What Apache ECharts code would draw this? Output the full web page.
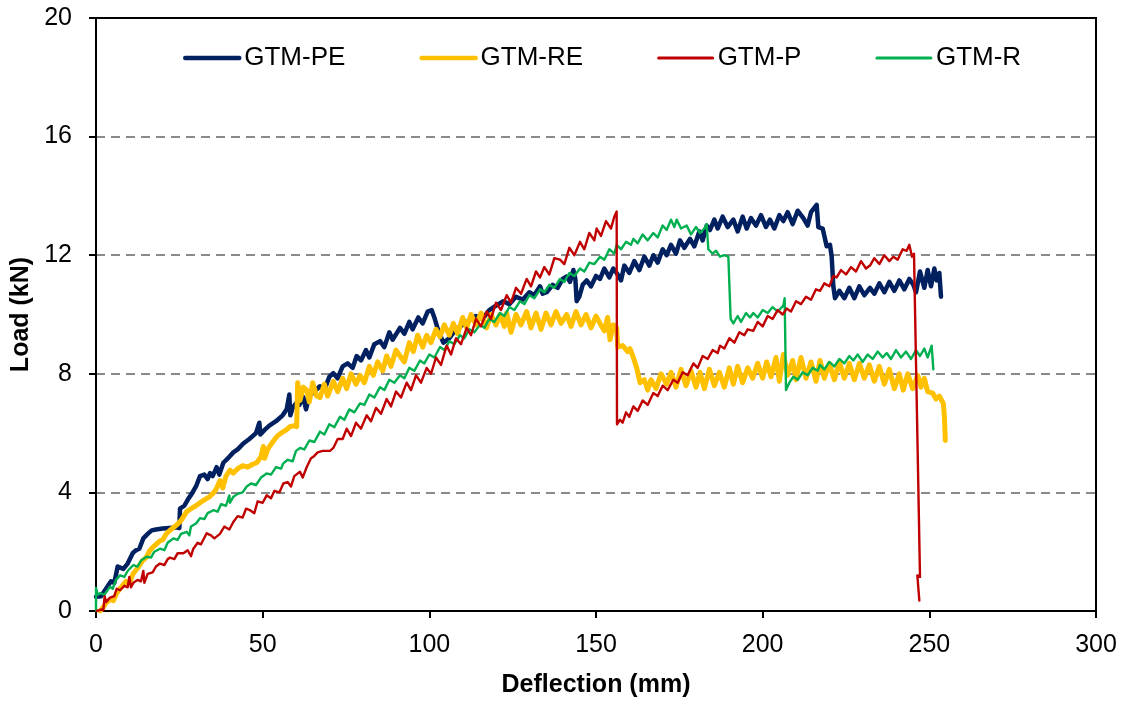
<!DOCTYPE html>
<html>
<head>
<meta charset="utf-8">
<script src="https://cdn.jsdelivr.net/npm/echarts@6/dist/echarts.min.js"></script>
<style>
  html, body { margin: 0; padding: 0; background: #fff; }
  #chart { width: 1131px; height: 704px; }
</style>
</head>
<body>
<div id="chart"></div>
<script>
// deflection (mm), load (kN) pairs
const gtmPE = [[0,0.48],[1.5,0.5],[3,0.75],[4.5,1.0],[5.5,0.95],[6.5,1.5],[7,1.55],[8.2,1.42],[9.5,1.6],[11,1.95],[12,2.05],[13,2.1],[14.2,2.45],[15.5,2.6],[16.7,2.72],[18,2.75],[20,2.78],[22,2.8],[24.2,2.82],[25,2.8],[25.2,3.45],[26.5,3.55],[27.5,3.75],[28.7,3.95],[30,4.2],[31.2,4.55],[32.5,4.6],[33.5,4.45],[34.2,4.65],[35,4.55],[36.2,4.85],[37,4.6],[38.2,5.0],[40,5.2],[41.2,5.35],[42.5,5.45],[44.2,5.65],[46,5.8],[48,6.0],[49,6.35],[49.3,5.95],[50.5,6.1],[52,6.25],[54,6.4],[56,6.6],[57.2,6.8],[58,7.3],[58.3,6.6],[59,6.85],[60,7.0],[61,6.95],[62.2,7.22],[63,6.8],[64,7.25],[65,7.35],[67.2,7.58],[68.5,7.45],[70,7.9],[71.2,8.02],[72.5,7.85],[74,8.25],[75.5,8.35],[77,8.2],[78.2,8.6],[79.5,8.45],[81,8.8],[82,8.55],[83.5,9.0],[85.2,9.1],[86.5,8.9],[88,9.4],[89,9.15],[91.2,9.55],[92.5,9.35],[94,9.75],[95,9.5],[96.7,9.9],[98,9.7],[99.5,10.1],[100.7,10.15],[101.5,9.9],[102.7,9.45],[104.2,9.05],[106,9.2],[108,9.5],[110,9.65],[112,9.8],[114,9.95],[116,9.85],[118,10.15],[120,10.3],[122.2,10.45],[124,10.35],[126,10.6],[128,10.5],[130,10.75],[131.5,10.65],[133.2,10.95],[134,10.7],[135.2,10.75],[137,11.0],[138.5,10.9],[140,11.2],[141.2,11.28],[142.2,11.1],[143.2,11.5],[143.8,11.2],[144.2,10.45],[145,10.6],[146,11.0],[147.2,11.15],[148.5,10.95],[150,11.3],[151.2,11.2],[152.5,11.55],[154,11.25],[155.2,11.55],[156.2,11.4],[157.5,11.15],[158.5,11.65],[160,11.4],[161.5,11.8],[163,11.5],[164.5,11.95],[166,11.65],[167.2,12.0],[168.5,11.75],[170,12.2],[171.2,12.0],[172.5,12.35],[174,12.05],[175.2,12.5],[176.5,12.25],[178.2,12.55],[179.5,12.3],[181,12.8],[182,12.5],[183.2,13.0],[184.2,12.85],[185.5,13.2],[186.5,12.9],[188,13.3],[189.5,12.95],[191.2,13.2],[192.5,12.8],[194,13.3],[195.2,12.9],[196.5,13.25],[198,13.0],[199.5,13.35],[201,12.95],[202.2,13.2],[203.5,12.9],[205,13.35],[206.2,13.15],[207.5,13.45],[209,13.05],[210.5,13.5],[212.2,13.25],[213.5,13.0],[214.5,13.45],[216.2,13.7],[216.7,12.95],[218,12.9],[219.2,12.3],[220.2,12.35],[220.7,11.95],[221.2,10.95],[221.7,10.55],[223,10.8],[224.5,10.55],[226,10.9],[227.5,10.55],[229,10.95],[230.5,10.65],[232.2,10.9],[233.5,10.7],[235,11.05],[236.5,10.75],[238,11.1],[239.5,10.8],[241,11.15],[242.5,10.85],[244,11.2],[245.2,11.0],[246,10.75],[247.2,11.45],[248.5,10.9],[249.5,11.5],[250.5,10.95],[251.5,11.55],[252.2,11.15],[253,11.4],[253.5,10.6]];

const gtmRE = [[1.2,0],[2,0.1],[3.2,0.3],[4.5,0.4],[5.2,0.35],[6.2,0.6],[7.5,0.8],[9,1.0],[10,0.95],[11.2,1.27],[12.5,1.45],[14,1.7],[15,1.8],[16.2,2.05],[17.5,2.2],[19,2.35],[20,2.4],[21.2,2.62],[22.5,2.75],[24.2,2.9],[25.5,3.05],[27.2,3.35],[28.5,3.45],[30,3.55],[31.2,3.65],[32.5,3.75],[34,3.85],[35.2,3.98],[36,4.1],[37.2,4.4],[38,4.15],[39,4.55],[40.2,4.75],[41.2,4.65],[42.5,4.8],[44,4.9],[45.5,4.85],[47,4.95],[48.2,5.0],[49.5,5.2],[50.2,5.55],[50.6,5.15],[51.5,5.45],[53,5.7],[54.2,5.88],[55.5,6.0],[57,6.1],[58.2,6.22],[59.5,6.25],[60.2,6.22],[60.5,7.7],[61.2,7.1],[62.2,7.55],[63.2,7.45],[64,7.05],[65,7.7],[66.2,7.25],[67.2,7.2],[68.5,7.65],[69.5,7.25],[71.2,7.75],[72.5,7.4],[74,7.85],[75.2,7.5],[76.5,8.0],[78,7.65],[79.2,7.95],[80.5,7.7],[82,8.25],[83.2,7.95],[84.5,8.4],[86,8.1],[87.2,8.6],[88.5,8.25],[90,8.8],[91.2,8.6],[92.5,8.4],[94,9.05],[95.2,8.75],[96.5,9.3],[98,8.9],[99.2,9.3],[100.5,9.05],[102,9.5],[103.2,9.25],[104.5,9.65],[106,9.3],[107.2,9.7],[108.5,9.35],[110,9.9],[111.2,9.55],[112.5,10.0],[114,9.65],[115.5,10.05],[117.2,9.55],[118.5,10.0],[120,9.65],[121.2,10.0],[122.5,9.6],[123.2,10.05],[124.5,9.4],[126,10.0],[127.5,9.65],[129.2,10.1],[130.5,9.55],[132,10.05],[133.5,9.5],[135,10.05],[136.5,9.65],[138,10.1],[139.5,9.7],[141.2,10.0],[142.5,9.6],[144,10.1],[145.5,9.65],[147,10.0],[148.5,9.55],[150,9.95],[151.2,9.7],[152.5,9.45],[153.5,9.9],[154.2,9.15],[155.2,9.65],[156.2,9.55],[156.5,8.9],[158,8.95],[159.5,8.75],[160.2,8.85],[161.2,8.55],[162.2,8.2],[163.2,7.7],[164.5,7.8],[165.5,7.45],[166.5,7.8],[168,7.5],[169.5,8.0],[171.2,7.65],[172.5,8.05],[174,7.55],[175.5,8.15],[177,7.6],[178.5,8.1],[180,7.55],[181.2,8.05],[182.5,7.5],[184,8.15],[185.5,7.6],[187,8.05],[188.5,7.55],[190,8.2],[191.2,7.65],[192.5,8.25],[194,7.7],[195.5,8.2],[197,7.85],[198.5,8.35],[200,7.85],[201.2,8.4],[202.5,7.9],[204,8.55],[205,7.75],[206.2,8.65],[207.5,7.95],[209,8.45],[210,7.8],[211.5,8.55],[213,7.85],[214.5,8.4],[216,7.75],[217.2,8.45],[218.5,7.85],[220,8.35],[221.5,7.8],[223,8.4],[224.5,7.85],[226,8.35],[227.5,7.8],[229,8.35],[230.5,7.85],[232,8.3],[233.5,7.75],[235,8.25],[236.5,7.65],[238,8.15],[239.5,7.5],[241,8.0],[242.2,7.45],[243.5,8.0],[245,7.5],[246.5,7.95],[247.5,7.55],[248.5,7.85],[249.5,7.4],[251,7.35],[252,7.15],[253,7.25],[254.2,7.0],[254.5,6.6],[254.8,5.75]];

const gtmP = [[0.2,0],[1.5,0.05],[2.2,0.03],[2.6,0.5],[3,0.3],[4.2,0.45],[5.5,0.5],[6.2,0.75],[7.2,0.7],[8.5,0.85],[9.5,0.8],[10,1.15],[10.5,0.8],[11.2,0.95],[12.5,1.05],[13.5,1.0],[14.2,1.35],[14.5,0.95],[15.5,1.25],[17,1.3],[18,1.5],[19.2,1.6],[20.5,1.55],[21.5,1.75],[22.2,1.8],[23.5,1.75],[24.5,1.95],[26.2,1.95],[27.5,2.05],[28.5,1.85],[29.2,2.1],[30.5,2.3],[31.5,2.25],[33.2,2.62],[34.5,2.55],[35.5,2.45],[37.2,2.6],[38.5,2.85],[40,2.75],[41.2,3.0],[42.5,3.2],[44,3.15],[45,3.45],[46.2,3.4],[47.5,3.3],[48.5,3.7],[50,3.65],[51.2,3.9],[52.5,3.8],[53.5,4.05],[55,4.0],[56.2,4.3],[57.5,4.35],[58.5,4.2],[59.5,4.55],[61.2,4.7],[62,4.5],[63.2,4.85],[64.5,5.15],[65.2,5.2],[66.5,5.35],[68,5.4],[70.2,5.4],[71.2,5.5],[72.5,5.8],[74,5.8],[75.2,6.15],[76.5,5.9],[78,6.35],[79.5,6.15],[81.2,6.6],[82.5,6.4],[84,6.85],[85.5,6.65],[87.2,7.15],[88.5,6.9],[90,7.4],[91.5,7.2],[93.2,7.7],[94.5,7.45],[96,7.95],[97.5,7.7],[99.2,8.2],[100.5,8.0],[102,8.55],[103.5,8.3],[105.2,8.95],[106.5,8.65],[108,9.2],[109.5,9.0],[111.2,9.55],[112.5,9.3],[114,9.85],[115.5,9.6],[117.2,10.1],[118.5,9.85],[120,10.4],[121.5,10.15],[123.2,10.65],[124.5,10.4],[126,10.9],[127.5,10.7],[129.2,11.2],[130.5,10.95],[132,11.45],[133.2,11.25],[134.5,11.6],[136,11.35],[137.5,11.9],[139.2,11.85],[140.5,11.7],[142,12.25],[143.5,12.0],[145.2,12.45],[146.5,12.2],[148,12.75],[149.5,12.5],[150.2,12.9],[151.5,12.65],[153,13.15],[154.5,12.9],[155.5,13.3],[156.2,13.47],[156.3,6.3],[157.2,6.45],[158,6.35],[159,6.7],[160,6.55],[161.2,6.9],[162.5,6.75],[164,7.1],[165.5,6.95],[167.2,7.35],[168.5,7.25],[170,7.6],[171.5,7.45],[173.2,7.8],[174.5,7.7],[176,8.05],[177.5,7.95],[179.2,8.35],[180.5,8.2],[182,8.6],[183.5,8.5],[185,8.8],[186.5,8.7],[187.2,8.95],[188.5,8.85],[190,9.2],[191.5,9.05],[193,9.4],[194.5,9.3],[195.5,9.5],[197.2,9.45],[198.5,9.75],[200,9.6],[201.5,9.95],[203,9.85],[204.5,10.15],[206,10.0],[207.2,10.2],[208.5,10.1],[210,10.45],[211.5,10.35],[213,10.6],[214.5,10.5],[216,10.85],[217.2,10.8],[218.5,11.05],[220,10.95],[221.2,11.3],[222.2,11.25],[223.5,11.5],[225,11.35],[226.5,11.6],[228,11.45],[229.5,11.8],[231,11.55],[232.2,11.65],[233.5,11.9],[235,11.7],[236.5,12.0],[238,11.8],[239.2,11.95],[240.5,11.85],[242,12.2],[243.2,12.15],[244,12.35],[244.8,11.95],[245.4,12.05],[245.7,10.2],[247.2,1.15],[246.4,1.2],[247.0,0.35]];

const gtmR = [[0,0],[0,0.78],[0.5,0.55],[1.2,0.6],[2.5,0.55],[4.2,0.82],[5,0.75],[6,1.05],[7.2,1.2],[8.5,1.15],[9.5,1.35],[11.2,1.55],[12.5,1.5],[13.5,1.7],[15.2,1.83],[16.5,1.8],[17.5,2.0],[19.2,2.1],[20.5,2.05],[21.5,2.3],[23.2,2.45],[24.5,2.4],[25.5,2.6],[27.2,2.67],[28,2.55],[28.5,2.85],[30,2.95],[31.2,3.13],[32.5,3.1],[33.5,3.3],[35.2,3.4],[36.5,3.35],[37.5,3.6],[39,3.55],[40,3.9],[40.2,3.65],[41.2,3.85],[42.5,3.95],[44,4.0],[45.2,4.2],[46.5,4.3],[48,4.25],[49.5,4.5],[51.2,4.64],[52.5,4.6],[54,4.85],[55.5,4.8],[56.2,4.98],[57.5,5.1],[59,5.05],[60,5.4],[61.2,5.5],[62.5,5.45],[64,5.75],[65.5,5.7],[67.2,6.05],[68.5,5.95],[70,6.3],[71.5,6.2],[73.2,6.55],[74.5,6.45],[76,6.8],[77.5,6.7],[79.2,7.0],[80.5,6.95],[82,7.3],[83.5,7.2],[85.2,7.55],[86.5,7.45],[88,7.8],[89.5,7.7],[91.2,7.95],[92.5,7.85],[94,8.2],[95.5,8.1],[97.2,8.45],[98.5,8.35],[100,8.65],[101.5,8.55],[103.2,8.9],[104.5,8.8],[106,9.1],[107.5,9.0],[109.2,9.3],[110.5,9.2],[112,9.5],[113.5,9.4],[115.2,9.65],[116.5,9.55],[118,9.85],[119.5,9.75],[121.2,10.05],[122.5,9.95],[124,10.25],[125.5,10.15],[127.2,10.45],[128.5,10.35],[130,10.65],[131.5,10.55],[133.2,10.85],[134.5,10.75],[136,11.0],[137.5,10.9],[139.2,11.2],[140.5,11.1],[142,11.4],[143.5,11.3],[145.2,11.55],[146.5,11.45],[148,11.75],[149.5,11.7],[151.2,11.95],[152.5,11.85],[154,12.2],[155.5,12.05],[156.2,12.35],[157.5,12.2],[159,12.45],[160.5,12.35],[161.2,12.55],[162.5,12.4],[164,12.7],[165.5,12.5],[167.2,12.75],[168.5,12.6],[170,13.0],[171.2,12.85],[172.5,13.2],[173.5,12.95],[174.2,13.2],[175.5,12.9],[177.2,13.0],[178.5,12.7],[180,12.95],[181.2,12.75],[182.5,12.9],[183.2,13.05],[183.7,12.2],[185,12.05],[186,12.15],[187.2,11.95],[188.5,12.0],[189.7,11.95],[190.4,9.85],[191.2,9.7],[192.5,9.95],[193.5,9.75],[195,10.05],[196.2,9.9],[197.2,10.05],[198.5,9.9],[200,10.15],[201.5,10.05],[203,10.25],[204.5,10.1],[206.2,10.3],[206.6,10.55],[207.0,7.45],[208,7.7],[209.2,7.9],[210.5,7.8],[212,8.05],[213.5,7.95],[215,8.2],[216.5,8.1],[217.2,8.3],[218.5,8.15],[220,8.4],[221.5,8.25],[223,8.5],[224.5,8.35],[226,8.6],[227.2,8.45],[228.5,8.65],[230,8.4],[231.5,8.65],[233,8.5],[234.5,8.75],[236,8.55],[237.2,8.7],[238.5,8.5],[240,8.8],[241.5,8.55],[243,8.75],[244.5,8.5],[246,8.8],[247.2,8.6],[248.5,8.85],[249.5,8.55],[250.7,8.95],[251.2,8.15]];

const seriesNames = ['GTM-PE', 'GTM-RE', 'GTM-P', 'GTM-R']
const seriesColors = ['#002060', '#FFC000', '#C00000', '#00B050']
const seriesWidths = [4.5, 5, 2.4, 2.4]

const fontFam = '"Liberation Sans", Arial, sans-serif'

const mkLine = (i, data, z) => ({
  name: seriesNames[i],
  type: 'line',
  data,
  symbol: 'none',
  showSymbol: false,
  smooth: false,
  z,
  itemStyle: { color: seriesColors[i] },
  lineStyle: { color: seriesColors[i], width: seriesWidths[i], join: 'round', cap: 'round' },
  emphasis: { disabled: true }
})

const chart = echarts.init(document.getElementById('chart'), null, { renderer: 'canvas' })

chart.setOption({
  animation: false,
  backgroundColor: '#fff',
  grid: {
    left: 96,
    right: 35,
    top: 18,
    bottom: 93,
    show: true,
    borderColor: '#000',
    borderWidth: 2
  },
  legend: {
    // tiny itemHeight keeps the line icon's marker hidden under the line
    data: seriesNames.map((n, i) => ({
      name: n,
      lineStyle: { width: i < 2 ? 4.5 : 3, cap: 'round' }
    })),
    left: 183,
    top: 45,
    padding: 0,
    itemWidth: 54,
    itemHeight: 2,
    itemGap: 74,
    textStyle: { fontSize: 26, color: '#000', fontFamily: fontFam }
  },
  xAxis: [{
    type: 'value',
    min: 0,
    max: 300,
    interval: 50,
    name: 'Deflection (mm)',
    nameLocation: 'middle',
    nameGap: 62,
    nameTextStyle: { fontSize: 25, fontWeight: 'bold', color: '#000', fontFamily: fontFam },
    axisLine: { show: true, lineStyle: { color: '#000', width: 2 } },
    axisTick: { show: true, inside: false, length: 7, lineStyle: { color: '#000', width: 2 } },
    axisLabel: { fontSize: 25, color: '#000', margin: 22, fontFamily: fontFam },
    splitLine: { show: false }
  }, {
    // top frame line, drawn over the dashed grid line at 20
    type: 'value',
    position: 'top',
    min: 0,
    max: 300,
    z: 10,
    axisLine: { show: true, lineStyle: { color: '#000', width: 2 } },
    axisTick: { show: false },
    axisLabel: { show: false },
    splitLine: { show: false }
  }],
  yAxis: {
    type: 'value',
    min: 0,
    max: 20,
    interval: 4,
    name: 'Load (kN)',
    nameLocation: 'middle',
    nameGap: 54,
    nameTextStyle: { fontSize: 25, fontWeight: 'bold', color: '#000', fontFamily: fontFam },
    axisLine: { show: true, lineStyle: { color: '#000', width: 2 } },
    axisTick: { show: true, inside: false, length: 7, lineStyle: { color: '#000', width: 2 } },
    axisLabel: { fontSize: 25, color: '#000', margin: 24, fontFamily: fontFam },
    splitLine: { show: true, lineStyle: { color: '#8a8a8a', width: 2, type: [9, 6] } }
  },
  series: [
    mkLine(0, gtmPE, 2),
    mkLine(1, gtmRE, 3),
    mkLine(3, gtmR, 4),
    mkLine(2, gtmP, 5)
  ]
})
</script>
</body>
</html>
